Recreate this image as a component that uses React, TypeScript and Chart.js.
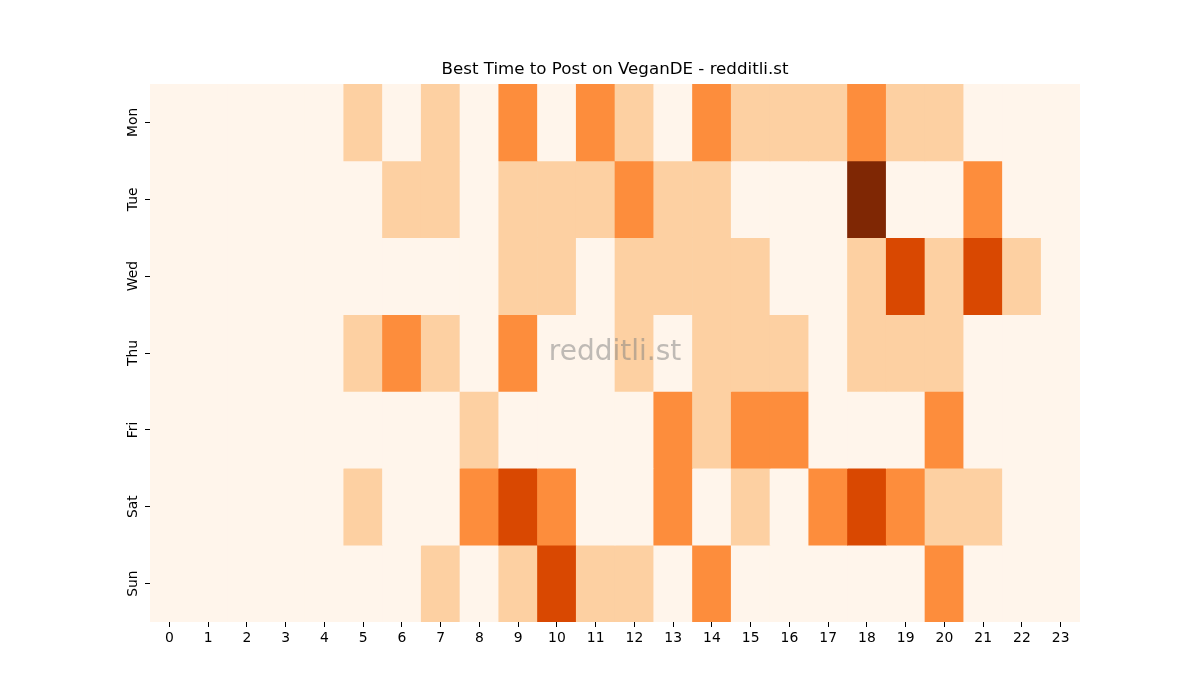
import React, { useEffect, useRef } from "react";
import { Chart, registerables } from "chart.js";

Chart.register(...registerables);

const days = ["Mon", "Tue", "Wed", "Thu", "Fri", "Sat", "Sun"];
const hours = ["0","1","2","3","4","5","6","7","8","9","10","11","12","13","14","15","16","17","18","19","20","21","22","23"];

// activity level per hour (0..4)
const mon = [0,0,0,0,0,1,0,1,0,2,0,2,1,0,2,1,1,1,2,1,1,0,0,0];
const tue = [0,0,0,0,0,0,1,1,0,1,1,1,2,1,1,0,0,0,4,0,0,2,0,0];
const wed = [0,0,0,0,0,0,0,0,0,1,1,0,1,1,1,1,0,0,1,3,1,3,1,0];
const thu = [0,0,0,0,0,1,2,1,0,2,0,0,1,0,1,1,1,0,1,1,1,0,0,0];
const fri = [0,0,0,0,0,0,0,0,1,0,0,0,0,2,1,2,2,0,0,0,2,0,0,0];
const sat = [0,0,0,0,0,1,0,0,2,3,2,0,0,2,0,1,0,2,3,2,1,1,0,0];
const sun = [0,0,0,0,0,0,0,1,0,1,3,1,1,0,2,0,0,0,0,0,2,0,0,0];

const rows = [mon, tue, wed, thu, fri, sat, sun];
const palette = ["#fff5eb", "#fdd0a2", "#fd8d3c", "#d94801", "#7f2704"];

const FONT = "'DejaVu Sans', sans-serif";

export default function App() {
  const ref = useRef<HTMLCanvasElement | null>(null);
  useEffect(() => {
    document.body.style.margin = "0";
    const ctx = ref.current!.getContext("2d")!;
    const watermark = {
      id: "watermark",
      afterDatasetsDraw(chart: any) {
        const c = chart.ctx;
        const a = chart.chartArea;
        c.save();
        c.font = `28px ${FONT}`;
        c.fillStyle = "rgba(128,128,128,0.5)";
        c.textAlign = "center";
        c.textBaseline = "middle";
        c.fillText("redditli.st", (a.left + a.right) / 2, (a.top + a.bottom) / 2);
        c.restore();
      },
    };
    const chart = new Chart(ctx, {
      type: "bar",
      data: {
        labels: hours,
        datasets: rows.map((r, i) => ({
          label: days[i],
          data: r.map(() => [i, i + 1]),
          backgroundColor: r.map((v) => palette[v]),
          borderWidth: 0,
          barPercentage: 1,
          categoryPercentage: 1,
          grouped: false,
        })) as any,
      },
      options: {
        animation: false,
        responsive: false,
        layout: { padding: { left: 0, right: 120, top: 0, bottom: 0 } },
        plugins: {
          legend: { display: false },
          tooltip: { enabled: false },
          title: {
            display: true,
            text: "Best Time to Post on VeganDE - redditli.st",
            fullSize: false,
            color: "#000",
            font: { family: FONT, size: 16.67, weight: "normal" },
            padding: { top: 60, bottom: 4 },
          },
        },
        scales: {
          x: {
            type: "category",
            offset: true,
            grid: { display: true, drawOnChartArea: false, tickLength: 5, color: "#000", offset: false },
            border: { display: false },
            ticks: { color: "#000", font: { family: FONT, size: 13.9 }, padding: 3, maxRotation: 0, minRotation: 0 },
            afterFit: (s: any) => { s.height = 78; },
          },
          y: {
            type: "linear",
            min: 0,
            max: 7,
            reverse: true,
            afterBuildTicks: (s: any) => {
              s.ticks = days.map((_, i) => ({ value: i + 0.5 }));
            },
            grid: { display: true, drawOnChartArea: false, tickLength: 5, color: "#000" },
            border: { display: false },
            ticks: {
              color: "#000",
              font: { family: FONT, size: 13.9 },
              padding: -4,
              crossAlign: "center",
              minRotation: 90,
              maxRotation: 90,
              autoSkip: false,
              callback: (v: any) => days[Math.floor(Number(v))],
            },
            afterFit: (s: any) => { s.width = 150; },
          },
        },
      },
      plugins: [watermark],
    } as any);
    return () => chart.destroy();
  }, []);
  return (
    <div style={{ width: 1200, height: 700 }}>
      <canvas ref={ref} width={1200} height={700} />
    </div>
  );
}
